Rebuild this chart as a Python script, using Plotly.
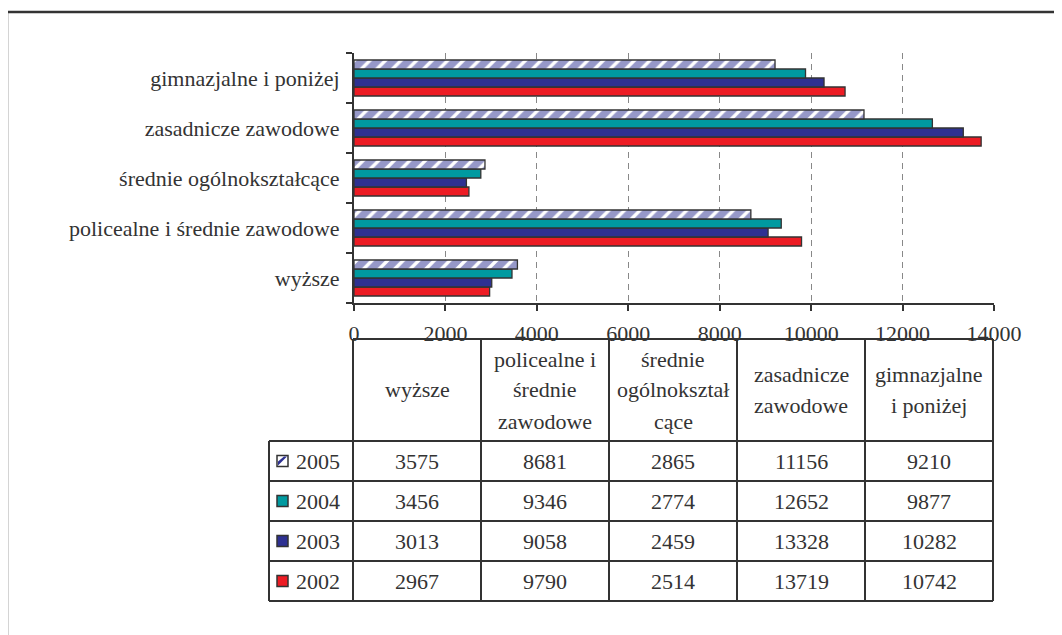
import plotly.graph_objects as go

categories = ["wyższe", "policealne i średnie zawodowe", "średnie ogólnokształcące",
              "zasadnicze zawodowe", "gimnazjalne i poniżej"]
header_lines = [["wyższe"], ["policealne i", "średnie", "zawodowe"],
                ["średnie", "ogólnokształ", "cące"], ["zasadnicze", "zawodowe"],
                ["gimnazjalne", "i poniżej"]]
years = ["2005", "2004", "2003", "2002"]
v2005 = [3575, 8681, 2865, 11156, 9210]
v2004 = [3456, 9346, 2774, 12652, 9877]
v2003 = [3013, 9058, 2459, 13328, 10282]
v2002 = [2967, 9790, 2514, 13719, 10742]
x_ticks = [0, 2000, 4000, 6000, 8000, 10000, 12000, 14000]

NAVY = "#2E3192"
TEAL = "#009AA0"
RED = "#ED1C24"
EDGE = "#333333"
TXT = "#333333"
FONT = "Liberation Serif, Times New Roman, serif"
FS = 22

OFF = 8  # page body margin
W, H = 1062 - OFF, 635 - OFF
L, R, T, B = 354, 994, 53, 303


def px(x):
    return (x - L) / (R - L)


def py(y):
    return (B - y) / (B - T)


fig = go.Figure()
series = [("2002", v2002, RED, None), ("2003", v2003, NAVY, None),
          ("2004", v2004, TEAL, None), ("2005", v2005, "white", NAVY)]
for name, vals, col, pat in series:
    marker = dict(color=col, line=dict(color=EDGE, width=1.3))
    if pat:
        marker["pattern"] = dict(shape="/", fgcolor=pat, bgcolor="white",
                                 size=11, solidity=0.7)
    fig.add_trace(go.Bar(y=categories, x=vals, name=name, orientation="h",
                         marker=marker, showlegend=False))

shapes = []
annotations = []


def line(x0, y0, x1, y1, w=2, color=EDGE):
    shapes.append(dict(type="line", xref="paper", yref="paper",
                       x0=px(x0), y0=py(y0), x1=px(x1), y1=py(y1),
                       line=dict(color=color, width=w)))


def text(x, y, s, size=FS):
    annotations.append(dict(xref="paper", yref="paper", x=px(x), y=py(y),
                            text=s, showarrow=False, xanchor="center",
                            yanchor="middle",
                            font=dict(family=FONT, size=size, color=TXT)))


# outer frame
line(7, 12, 7, 660, w=2.5, color="#555555")
line(7, 12, 1090, 12, w=2.5)

# table geometry
col_x = [353 + 128 * i for i in range(6)]
head_top, head_bot = 339, 441
row_y = [441, 481, 521, 561, 601]
leg_left = 269

line(col_x[0], head_top, col_x[-1], head_top)
for cx in col_x:
    line(cx, head_top, cx, row_y[-1])
line(leg_left, row_y[0], leg_left, row_y[-1])
for ry in row_y:
    line(leg_left, ry, col_x[-1], ry)

# header text
for i, lines in enumerate(header_lines):
    cx = (col_x[i] + col_x[i + 1]) / 2
    n = len(lines)
    mid = (head_top + head_bot) / 2
    for j, s in enumerate(lines):
        yy = mid + (j - (n - 1) / 2) * 31
        text(cx, yy, s)

# rows
row_vals = [v2005, v2004, v2003, v2002]
row_cols = [None, TEAL, NAVY, RED]
for r, (yr, vals, c) in enumerate(zip(years, row_vals, row_cols)):
    cy = (row_y[r] + row_y[r + 1]) / 2
    sx0, sx1 = 277, 288
    sy0, sy1 = cy - 5.5, cy + 5.5
    if c is None:
        shapes.append(dict(type="rect", xref="paper", yref="paper",
                           x0=px(sx0), x1=px(sx1), y0=py(sy1), y1=py(sy0),
                           fillcolor="white", line=dict(color=EDGE, width=1.5)))
        path = "M {} {} L {} {} L {} {} L {} {} Z".format(
            px(sx0 + 1), py(sy1 - 1), px(sx0 + 1), py(sy1 - 5),
            px(sx1 - 4), py(sy0 + 1), px(sx1 - 1), py(sy0 + 1))
        shapes.append(dict(type="path", xref="paper", yref="paper", path=path,
                           fillcolor=NAVY, line=dict(width=0)))
    else:
        shapes.append(dict(type="rect", xref="paper", yref="paper",
                           x0=px(sx0), x1=px(sx1), y0=py(sy1), y1=py(sy0),
                           fillcolor=c, line=dict(color=EDGE, width=1.5)))
    text(318, cy, yr)
    for i, v in enumerate(vals):
        cx = (col_x[i] + col_x[i + 1]) / 2
        text(cx, cy, str(v))

fig.update_layout(
    width=W, height=H,
    margin=dict(l=L - OFF, r=(W + OFF) - R, t=T - OFF, b=(H + OFF) - B, pad=0),
    paper_bgcolor="white", plot_bgcolor="white",
    barmode="group", bargap=0.28, bargroupgap=0,
    shapes=shapes, annotations=annotations,
    font=dict(family=FONT, size=FS, color=TXT),
)
fig.update_xaxes(range=[0, 14000], tickvals=x_ticks,
                 ticktext=[str(v) for v in x_ticks],
                 showgrid=True, gridcolor="#888888", griddash="6px,5px",
                 gridwidth=1, zeroline=False,
                 showline=True, linecolor=EDGE, linewidth=2,
                 ticks="outside", ticklen=6, tickcolor=EDGE, tickwidth=2,
                 ticklabelstandoff=4,
                 tickfont=dict(family=FONT, size=FS, color=TXT))
fig.update_yaxes(type="category", categoryorder="array", categoryarray=categories,
                 range=[-0.5, 4.5], showgrid=False, zeroline=False,
                 showline=True, linecolor=EDGE, linewidth=2,
                 ticks="outside", tickson="boundaries", ticklen=6,
                 tickcolor=EDGE, tickwidth=2, ticklabelstandoff=8,
                 tickfont=dict(family=FONT, size=FS, color=TXT))

fig.write_html("out.html")
